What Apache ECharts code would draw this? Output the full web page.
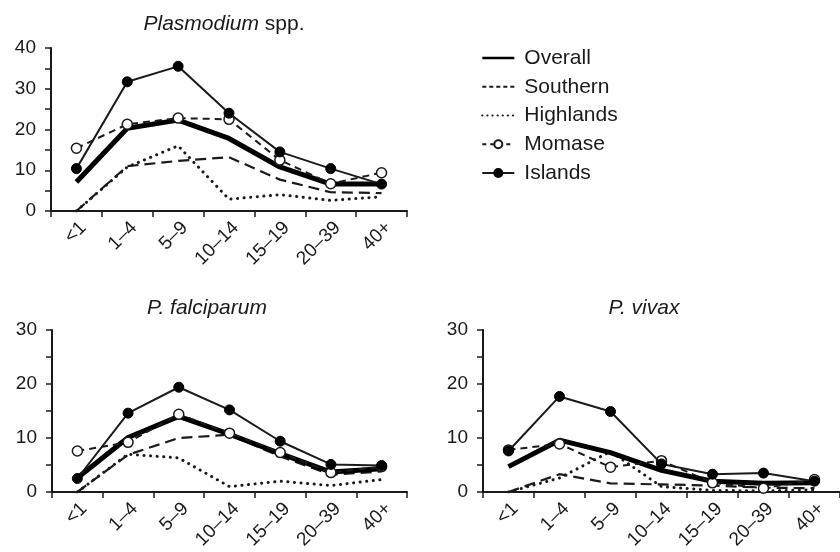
<!DOCTYPE html>
<html><head><meta charset="utf-8">
<script src="https://cdn.jsdelivr.net/npm/echarts@6/dist/echarts.min.js"></script>
<style>html,body{margin:0;padding:0;background:#fff}#c{width:840px;height:552px}</style>
</head><body><div id="c"></div>
<script>
var categories = ['<1','1–4','5–9','10–14','15–19','20–39','40+'];
var seriesNames = ['Overall','Southern','Highlands','Momase','Islands'];
var panelTitles = ['Plasmodium spp.','P. falciparum','P. vivax'];

var sppOverall   = [7.1, 20.3, 22.3, 17.8, 10.8, 6.6, 6.6];
var sppSouthern  = [0, 11.0, 12.3, 13.2, 7.7, 4.6, 4.4];
var sppHighlands = [0, 10.8, 16.0, 2.9, 4.0, 2.6, 3.5];
var sppMomase    = [15.4, 21.3, 22.8, 22.5, 12.5, 6.7, 9.4];
var sppIslands   = [10.4, 31.7, 35.5, 24.0, 14.5, 10.4, 6.6];

var pfOverall   = [2.6, 10.1, 14.0, 10.7, 7.1, 3.7, 4.3];
var pfSouthern  = [0, 6.9, 10.0, 10.6, 6.6, 3.2, 3.8];
var pfHighlands = [0, 7.0, 6.3, 1.0, 2.0, 1.2, 2.3];
var pfMomase    = [7.6, 9.2, 14.4, 10.9, 7.3, 3.6, 4.7];
var pfIslands   = [2.5, 14.6, 19.4, 15.2, 9.4, 5.1, 4.9];

var pvOverall   = [4.7, 9.6, 7.3, 4.0, 2.0, 1.6, 1.7];
var pvSouthern  = [0, 3.3, 1.6, 1.4, 1.2, 0.8, 0.7];
var pvHighlands = [0, 2.6, 7.5, 1.0, 0.3, 0.2, 0.4];
var pvMomase    = [7.8, 8.9, 4.6, 5.8, 1.7, 0.7, 2.3];
var pvIslands   = [7.6, 17.7, 14.9, 5.2, 3.3, 3.5, 2.0];

var yMax = [40, 30, 30];

var FONT = '"Liberation Sans", Arial, Helvetica, sans-serif';
var INK = '#1a1a1a';

var panels = [
  [sppOverall, sppSouthern, sppHighlands, sppMomase, sppIslands],
  [pfOverall, pfSouthern, pfHighlands, pfMomase, pfIslands],
  [pvOverall, pvSouthern, pvHighlands, pvMomase, pvIslands]
];

var grids = [
  {left: 51, top: 48, width: 356, height: 163},
  {left: 52, top: 330, width: 355, height: 162},
  {left: 483, top: 330, width: 357, height: 162}
];

var xAxes = [], yAxes = [], series = [];
grids.forEach(function (g, i) {
  xAxes.push({
    type: 'category', gridIndex: i, data: categories, boundaryGap: true,
    axisLine: {lineStyle: {color: INK, width: 2}},
    axisTick: {show: true, length: 6, interval: 0, lineStyle: {color: INK, width: 1.5}},
    axisLabel: {interval: 0, rotate: 45, margin: 7, verticalAlign: 'top', color: INK, fontSize: 19, fontFamily: FONT},
    splitLine: {show: false}
  });
  yAxes.push({
    type: 'value', gridIndex: i, min: 0, max: yMax[i], interval: 10,
    axisLine: {show: true, lineStyle: {color: INK, width: 2}},
    axisTick: {show: true, length: 6, lineStyle: {color: INK, width: 1.5}},
    minorTick: {show: true, splitNumber: 2, length: 6, lineStyle: {color: INK, width: 1.5}},
    axisLabel: {margin: 15, color: INK, fontSize: 19, fontFamily: FONT},
    splitLine: {show: false}, minorSplitLine: {show: false}
  });
  var d = panels[i];
  series.push({name: 'Overall', type: 'line', xAxisIndex: i, yAxisIndex: i, data: d[0],
    symbol: 'none', z: 3, lineStyle: {color: '#000', width: 5}, itemStyle: {color: '#000'}});
  series.push({name: 'Southern', type: 'line', xAxisIndex: i, yAxisIndex: i, data: d[1],
    symbol: 'none', z: 2, lineStyle: {color: INK, width: 2.2, type: [11, 6]}, itemStyle: {color: INK}});
  series.push({name: 'Highlands', type: 'line', xAxisIndex: i, yAxisIndex: i, data: d[2],
    symbol: 'none', z: 2, lineStyle: {color: INK, width: 3, type: [0.1, 6.5], cap: 'round'}, itemStyle: {color: INK}});
  series.push({name: 'Momase', type: 'line', xAxisIndex: i, yAxisIndex: i, data: d[3],
    symbol: 'circle', symbolSize: 10, z: 4,
    lineStyle: {color: INK, width: 2, type: [7, 5]},
    itemStyle: {color: '#fff', borderColor: INK, borderWidth: 1.5}});
  series.push({name: 'Islands', type: 'line', xAxisIndex: i, yAxisIndex: i, data: d[4],
    symbol: 'circle', symbolSize: 10, z: 5,
    lineStyle: {color: INK, width: 2}, itemStyle: {color: '#000', borderColor: '#000', borderWidth: 1}});
});

var titlePos = [[224, 24], [207, 308], [644, 308]];
var graphics = titlePos.map(function (p, i) {
  var t = panelTitles[i];
  var txt = i === 0 ? '{i|Plasmodium} spp.' : '{i|' + t + '}';
  return {
    type: 'text', x: p[0], y: p[1], silent: true,
    style: {text: txt, align: 'center', verticalAlign: 'middle', fill: INK,
      font: '21px ' + FONT,
      rich: {i: {fontStyle: 'italic', fontSize: 21, fontFamily: FONT, fill: INK}}}
  };
});

var legendData = [
  {name: 'Overall', itemStyle: {opacity: 0}, lineStyle: {width: 2.6, type: 'solid'}},
  {name: 'Southern', itemStyle: {opacity: 0}, lineStyle: {width: 2, type: [4, 3]}},
  {name: 'Highlands', itemStyle: {opacity: 0}, lineStyle: {width: 2.2, type: [0.1, 5]}},
  {name: 'Momase', lineStyle: {width: 2, type: [4, 4]}},
  {name: 'Islands', lineStyle: {width: 2, type: 'solid'}}
];

var chart = echarts.init(document.getElementById('c'), null, {renderer: 'canvas'});
chart.setOption({
  animation: false,
  backgroundColor: '#fff',
  grid: grids,
  xAxis: xAxes,
  yAxis: yAxes,
  series: series,
  graphic: graphics,
  legend: {
    data: legendData, orient: 'vertical', left: 481, top: 47.5, padding: 0,
    itemWidth: 32, itemHeight: 10, itemGap: 7.75,
    textStyle: {fontSize: 21, color: INK, fontFamily: FONT, padding: [0, 0, 0, 5]},
    selectedMode: false
  }
});
</script></body></html>
